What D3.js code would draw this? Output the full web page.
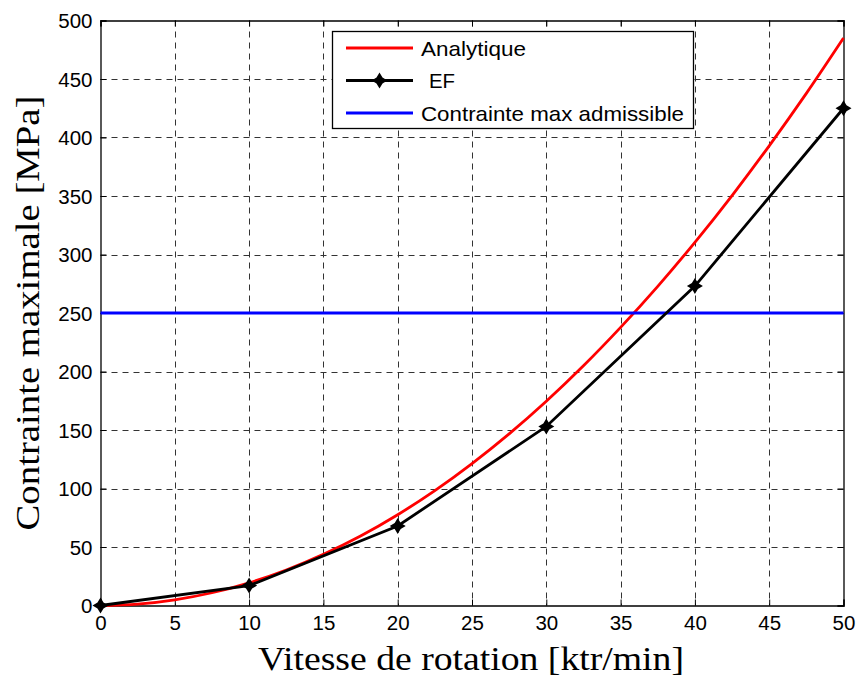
<!DOCTYPE html>
<html><head><meta charset="utf-8">
<script src="https://cdn.jsdelivr.net/npm/d3@7"></script>
<style>body{margin:0;background:#fff}svg{display:block}</style>
</head><body>
<script>
// Data
const analX = [0,2.5,5,7.5,10,12.5,15,17.5,20,22.5,25,27.5,30,32.5,35,37.5,40,42.5,45,47.5,50];
const analY = [0,1.2,4.9,10.9,19.4,30.3,43.7,59.4,77.6,98.2,121.3,146.7,174.6,204.9,237.7,272.8,310.4,350.4,392.9,437.7,485];
const efX = [0,10,20,30,40,50];
const efY = [0,17,68,153,273,425];
const limitY = 250;
const xTicks = [0,5,10,15,20,25,30,35,40,45,50];
const yTicks = [0,50,100,150,200,250,300,350,400,450,500];
const legendLabels = ["Analytique","EF","Contrainte max admissible"];

const W=857,H=677;
const L=100.5,R=843.5,T=20.5,B=605.5;
const svg=d3.select("body").append("svg").attr("width",W).attr("height",H);
const x=d3.scaleLinear().domain([0,50]).range([L,R]);
const y=d3.scaleLinear().domain([0,500]).range([B,T]);

// grid
const g=svg.append("g");
g.selectAll(".gx").data(xTicks.slice(1,-1)).enter().append("line")
 .attr("x1",d=>Math.round(x(d))+0.5).attr("x2",d=>Math.round(x(d))+0.5).attr("y1",T).attr("y2",B)
 .attr("stroke","#333").attr("stroke-width",1).attr("stroke-dasharray","6,5");
g.selectAll(".gy").data(yTicks.slice(1,-1)).enter().append("line")
 .attr("y1",d=>Math.round(y(d))+0.5).attr("y2",d=>Math.round(y(d))+0.5).attr("x1",L).attr("x2",R)
 .attr("stroke","#333").attr("stroke-width",1).attr("stroke-dasharray","6,5");

// axes
const font="'Liberation Sans',Arial,sans-serif";
const ax=svg.append("g").attr("transform",`translate(0,${B})`).call(d3.axisBottom(x).tickValues(xTicks).tickSize(-6).tickPadding(10));
const ay=svg.append("g").attr("transform",`translate(${L},0)`).call(d3.axisLeft(y).tickValues(yTicks).tickSize(-6).tickPadding(8));
const at=svg.append("g").attr("transform",`translate(0,${T})`).call(d3.axisTop(x).tickValues(xTicks).tickSize(-6).tickFormat(""));
const ar=svg.append("g").attr("transform",`translate(${R},0)`).call(d3.axisRight(y).tickValues(yTicks).tickSize(-6).tickFormat(""));
[ax,ay,at,ar].forEach(a=>{a.select(".domain").attr("stroke","#000").attr("stroke-width",1.3);
 a.selectAll(".tick line").attr("stroke","#000");
 a.selectAll("text").attr("font-family",font).attr("font-size",20.5).attr("fill","#000");});
ay.selectAll("text").attr("dy","0.36em");
ax.selectAll("text").attr("dy","0.7em");

// lines
svg.append("path").datum(d3.zip(analX,analY)).attr("d",d3.line().x(d=>x(d[0])).y(d=>y(d[1])).curve(d3.curveMonotoneX))
 .attr("fill","none").attr("stroke","#ff0000").attr("stroke-width",2.8);
svg.append("line").attr("x1",x(0)).attr("x2",x(50)).attr("y1",y(limitY)).attr("y2",y(limitY))
 .attr("stroke","#0000ff").attr("stroke-width",2.8);
svg.append("path").datum(d3.zip(efX,efY)).attr("d",d3.line().x(d=>x(d[0])).y(d=>y(d[1])))
 .attr("fill","none").attr("stroke","#000").attr("stroke-width",2.8);

function marker(sel,cx,cy){
  const s=sel.append("g").attr("transform",`translate(${cx},${cy})`);
  s.append("path").attr("d","M0,-8 L3,-3 L8,0 L3,3 L0,8 L-3,3 L-8,0 L-3,-3Z").attr("fill","#000");
  s.append("circle").attr("r",3.5).attr("fill","#000");
}
efX.forEach((d,i)=>marker(svg,x(d),y(efY[i])));

// legend
const lg=svg.append("g");
lg.append("rect").attr("x",332.5).attr("y",31.5).attr("width",361).attr("height",97).attr("fill","#fff").attr("stroke","#000").attr("stroke-width",1.3);
const colors=["#ff0000","#000","#0000ff"];
const legendX=[421,429,421];
const legendLen=[105,26,263];
legendLabels.forEach((t,i)=>{
  const yy=48+i*32.5;
  lg.append("line").attr("x1",346).attr("x2",413).attr("y1",yy).attr("y2",yy).attr("stroke",colors[i]).attr("stroke-width",2.8);
  if(i===1) marker(lg,379.5,yy);
  lg.append("text").attr("x",legendX[i]).attr("y",yy).attr("dy","0.36em").attr("font-family",font).attr("font-size",21)
    .attr("textLength",legendLen[i]).attr("lengthAdjust","spacingAndGlyphs").text(t);
});

// axis titles
svg.append("text").attr("x",471).attr("y",670).attr("text-anchor","middle").attr("font-family","'Liberation Serif',serif").attr("font-size",34)
 .attr("textLength",426).attr("lengthAdjust","spacingAndGlyphs").text("Vitesse de rotation [ktr/min]");
svg.append("text").attr("transform","translate(39,313) rotate(-90)").attr("text-anchor","middle").attr("font-family","'Liberation Serif',serif").attr("font-size",34)
 .attr("textLength",435).attr("lengthAdjust","spacingAndGlyphs").text("Contrainte maximale [MPa]");
</script>
</body></html>
